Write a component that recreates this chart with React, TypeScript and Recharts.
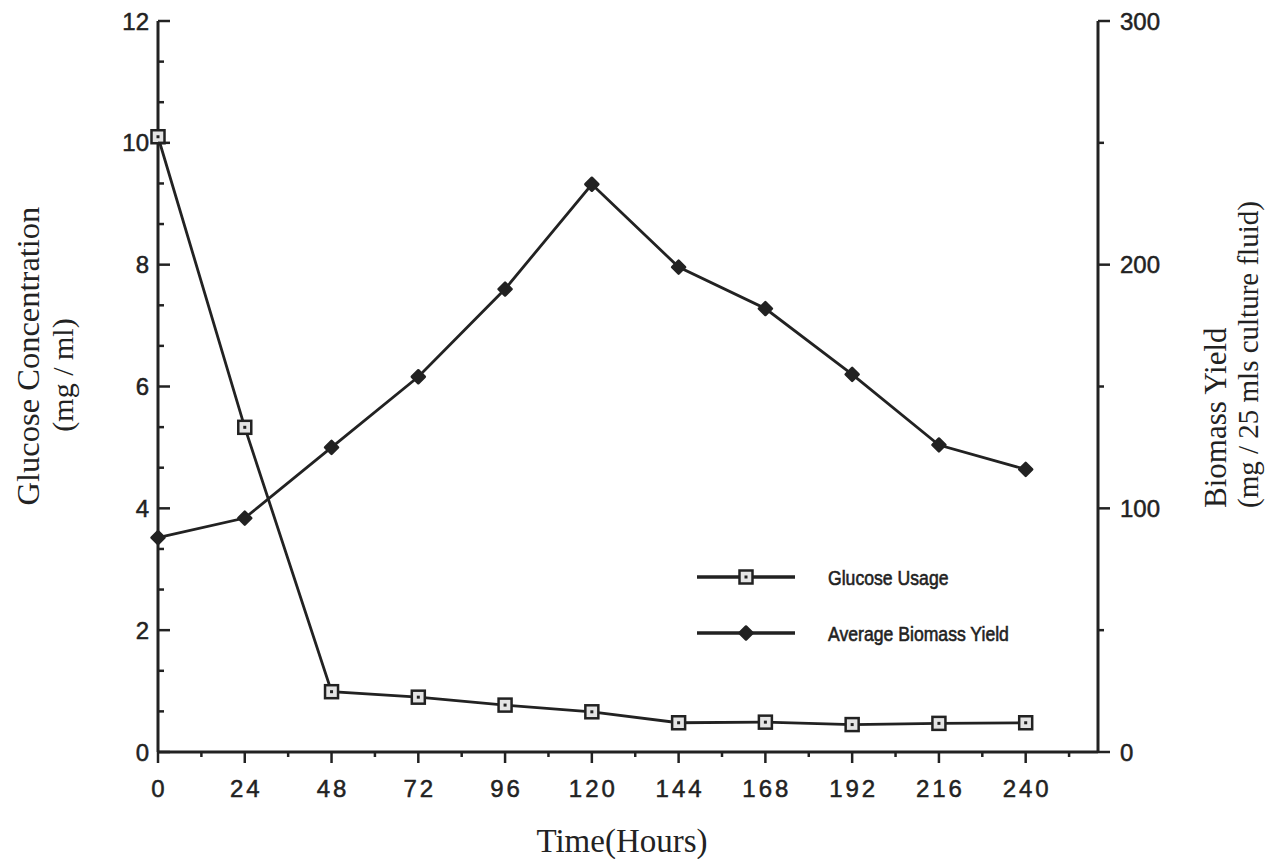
import React from 'react';
import { LineChart, Line, XAxis, YAxis, Legend, Label } from 'recharts';

// sampling times (hours)
const hours = [0, 24, 48, 72, 96, 120, 144, 168, 192, 216, 240];
// glucose left in the medium, mg / ml
const glucose = [10.1, 5.33, 0.99, 0.9, 0.77, 0.66, 0.48, 0.49, 0.45, 0.47, 0.48];
// biomass, mg / 25 mls culture fluid
const biomass = [88, 96, 125, 154, 190, 233, 199, 182, 155, 126, 116];

const seriesNames = ['Glucose Usage', 'Average Biomass Yield'];

const xMajorTicks = [0, 24, 48, 72, 96, 120, 144, 168, 192, 216, 240];
const xMinorTicks = [12, 36, 60, 84, 108, 132, 156, 180, 204, 228, 252];
const leftMajorTicks = [0, 2, 4, 6, 8, 10, 12];
const leftMinorTicks = [0.667, 1.333, 2.667, 3.333, 4.667, 5.333, 6.667, 7.333, 8.667, 9.333, 10.667, 11.333];
const rightMajorTicks = [0, 100, 200, 300];
const rightMinorTicks = [50, 150, 250];

const data = hours.map((h, i) => ({ hour: h, glucose: glucose[i], biomass: biomass[i] }));

const INK = '#222';
const SANS = '"Liberation Sans", Arial, Helvetica, sans-serif';
const SERIF = '"Liberation Serif", "Times New Roman", Times, serif';

// the scanned labels are a bit heavier than a plain regular face
const heavy = { stroke: INK, strokeWidth: 0.5 };

const XTick = (props: any) => {
  const { x, y, payload } = props;
  const major = xMajorTicks.includes(payload.value);
  return (
    <g>
      <line x1={x} y1={y} x2={x} y2={y + (major ? 11 : 5)} stroke={INK} strokeWidth={2.5} />
      {major && (
        <text x={x + 1.5} y={y + 45} textAnchor="middle" fontSize={24} letterSpacing={3} fill={INK} fontFamily={SANS} {...heavy}>
          {payload.value}
        </text>
      )}
    </g>
  );
};

const LeftTick = (props: any) => {
  const { x, y, payload } = props;
  const major = leftMajorTicks.includes(payload.value);
  return (
    <g>
      <line x1={x} y1={y} x2={x + (major ? 12 : 6)} y2={y} stroke={INK} strokeWidth={2.5} />
      {major && (
        <text x={x - 9} y={y} dy="0.36em" textAnchor="end" fontSize={24} fill={INK} fontFamily={SANS} {...heavy}>
          {payload.value}
        </text>
      )}
    </g>
  );
};

const RightTick = (props: any) => {
  const { x, y, payload } = props;
  const major = rightMajorTicks.includes(payload.value);
  return (
    <g>
      <line x1={x} y1={y} x2={x + (major ? 12 : 6)} y2={y} stroke={INK} strokeWidth={2.5} />
      {major && (
        <text x={x + 22} y={y} dy="0.36em" textAnchor="start" fontSize={24} fill={INK} fontFamily={SANS} {...heavy}>
          {payload.value}
        </text>
      )}
    </g>
  );
};

const SquareMark = ({ cx, cy }: { cx: number; cy: number }) => (
  <g>
    <rect x={cx - 6.5} y={cy - 6.5} width={13} height={13} fill="#e4e4e4" stroke={INK} strokeWidth={2.5} />
    <rect x={cx - 1.5} y={cy - 1.5} width={3} height={3} fill={INK} />
  </g>
);

const DiamondMark = ({ cx, cy }: { cx: number; cy: number }) => (
  <polygon
    points={`${cx},${cy - 6.5} ${cx + 6.5},${cy} ${cx},${cy + 6.5} ${cx - 6.5},${cy}`}
    fill={INK}
    stroke={INK}
    strokeWidth={2.5}
    strokeLinejoin="round"
  />
);

const squareDot = (props: any) => {
  if (props.cx == null || props.cy == null) return <g key={props.key} />;
  return <SquareMark key={props.key} cx={props.cx} cy={props.cy} />;
};

const diamondDot = (props: any) => {
  if (props.cx == null || props.cy == null) return <g key={props.key} />;
  return <DiamondMark key={props.key} cx={props.cx} cy={props.cy} />;
};

const renderLegend = (props: any) => {
  const entries = [...(props.payload || [])].sort(
    (a: any, b: any) => seriesNames.indexOf(a.value) - seriesNames.indexOf(b.value)
  );
  return (
    <svg width={380} height={100}>
      {entries.map((entry: any, i: number) => {
        const cy = 22 + i * 56;
        return (
          <g key={entry.value}>
            <line x1={9} x2={107} y1={cy} y2={cy} stroke={INK} strokeWidth={3.5} />
            {entry.dataKey === 'glucose' ? <SquareMark cx={58} cy={cy} /> : <DiamondMark cx={58} cy={cy} />}
            {/* condensed face: squeeze the regular sans horizontally */}
            <text
              x={140}
              y={cy}
              dy="0.36em"
              fontSize={21}
              fill={INK}
              fontFamily={SANS}
              stroke={INK}
              strokeWidth={0.6}
              transform={`translate(140 0) scale(0.84 1) translate(-140 0)`}
            >
              {entry.value}
            </text>
          </g>
        );
      })}
    </svg>
  );
};

const LeftTitle = (props: any) => {
  const { viewBox } = props;
  const x1 = viewBox.x + 39;
  const x2 = viewBox.x + 73;
  return (
    <g fontFamily={SERIF} fill={INK}>
      <text x={x1} y={356} fontSize={32.5} textAnchor="middle" transform={`rotate(-90 ${x1} 356)`}>Glucose Concentration</text>
      <text x={x2} y={375} fontSize={30} textAnchor="middle" transform={`rotate(-90 ${x2} 375)`}>(mg / ml)</text>
    </g>
  );
};

const RightTitle = (props: any) => {
  const { viewBox } = props;
  const x1 = viewBox.x + 128;
  const x2 = viewBox.x + 160;
  return (
    <g fontFamily={SERIF} fill={INK}>
      <text x={x1} y={508} fontSize={31} textAnchor="start" transform={`rotate(-90 ${x1} 508)`}>Biomass Yield</text>
      <text x={x2} y={508} fontSize={29} textAnchor="start" transform={`rotate(-90 ${x2} 508)`}>(mg / 25 mls culture fluid)</text>
    </g>
  );
};

const BottomTitle = (props: any) => {
  const { viewBox } = props;
  return (
    <text x={622} y={viewBox.y + 100} textAnchor="middle" fontFamily={SERIF} fontSize={33} fill={INK}>
      Time(Hours)
    </text>
  );
};

const App: React.FC = () => {
  return (
    <div style={{ position: 'absolute', left: 0, top: 0, width: 1278, height: 859, background: '#fff' }}>
      <LineChart width={1278} height={859} data={data} margin={{ top: 21, right: 0, bottom: 0, left: 0 }}>
        <XAxis
          dataKey="hour"
          type="number"
          domain={[0, 260]}
          ticks={[...xMajorTicks, ...xMinorTicks].sort((a, b) => a - b)}
          interval={0}
          height={107}
          axisLine={{ stroke: INK, strokeWidth: 3 }}
          tickLine={false}
          tickSize={0}
          tickMargin={0}
          tick={<XTick />}
        >
          <Label content={BottomTitle} />
        </XAxis>
        <YAxis
          yAxisId="left"
          domain={[0, 12]}
          ticks={[...leftMajorTicks, ...leftMinorTicks].sort((a, b) => a - b)}
          interval={0}
          width={158}
          axisLine={{ stroke: INK, strokeWidth: 3 }}
          tickLine={false}
          tickSize={0}
          tickMargin={0}
          tick={<LeftTick />}
        >
          <Label content={LeftTitle} />
        </YAxis>
        <YAxis
          yAxisId="right"
          orientation="right"
          domain={[0, 300]}
          ticks={[...rightMajorTicks, ...rightMinorTicks].sort((a, b) => a - b)}
          interval={0}
          width={180}
          axisLine={{ stroke: INK, strokeWidth: 3 }}
          tickLine={false}
          tickSize={0}
          tickMargin={0}
          tick={<RightTick />}
        >
          <Label content={RightTitle} />
        </YAxis>
        <Legend
          content={renderLegend}
          layout="horizontal"
          align="center"
          verticalAlign="middle"
          wrapperStyle={{ left: 688, top: 555, width: 380, height: 100 }}
        />
        <Line
          yAxisId="left"
          dataKey="glucose"
          name={seriesNames[0]}
          type="linear"
          stroke={INK}
          strokeWidth={2.8}
          dot={squareDot}
          activeDot={false}
          isAnimationActive={false}
        />
        <Line
          yAxisId="right"
          dataKey="biomass"
          name={seriesNames[1]}
          type="linear"
          stroke={INK}
          strokeWidth={2.8}
          dot={diamondDot}
          activeDot={false}
          isAnimationActive={false}
        />
      </LineChart>
    </div>
  );
};

export default App;
